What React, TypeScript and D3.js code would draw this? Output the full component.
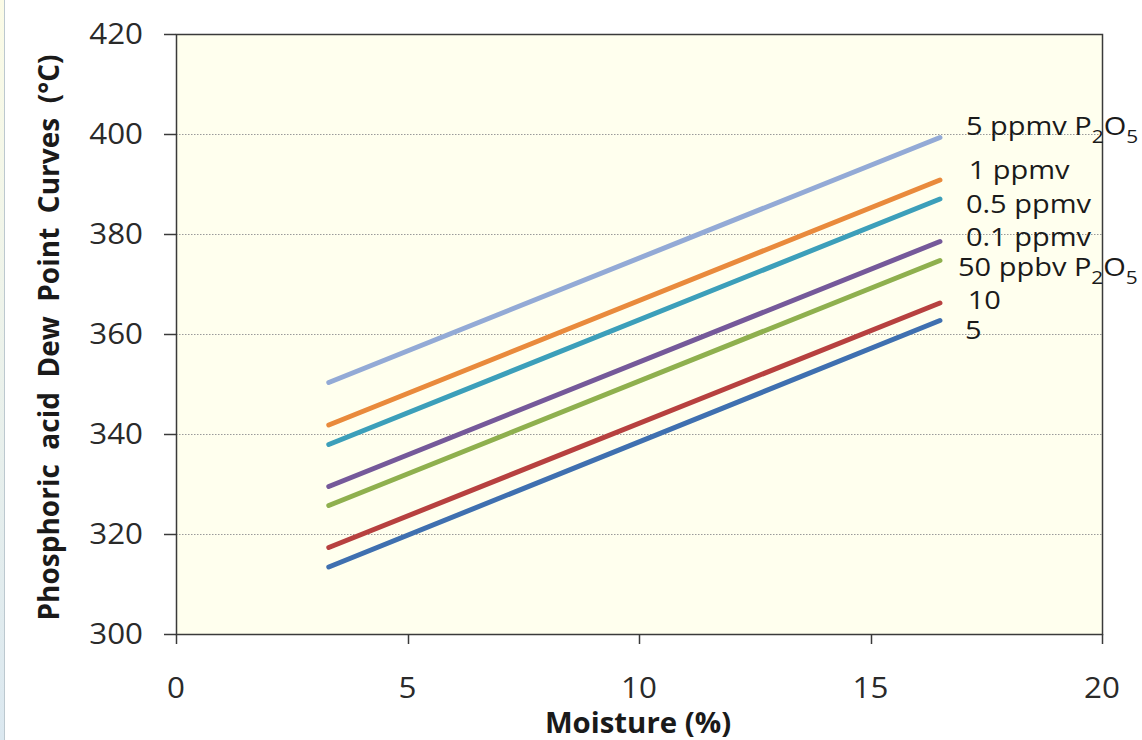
import React from "react";
import * as d3 from "d3";

// ---- data ----
const moisture: number[] = [3.3, 16.5];
const seriesNames: string[] = ["5 ppmv P2O5", "1 ppmv", "0.5 ppmv", "0.1 ppmv", "50 ppbv P2O5", "10", "5"];
const seriesColors: string[] = ["#93aad6", "#e98a3c", "#3c9fba", "#75599a", "#8fb04e", "#b7413f", "#3f70b0"];
const s5ppmv: number[] = [350.3, 399.3];
const s1ppmv: number[] = [341.8, 390.8];
const s05ppmv: number[] = [337.9, 387.0];
const s01ppmv: number[] = [329.5, 378.5];
const s50ppbv: number[] = [325.7, 374.7];
const s10ppbv: number[] = [317.3, 366.2];
const s5ppbv: number[] = [313.4, 362.7];
const seriesValues: number[][] = [s5ppmv, s1ppmv, s05ppmv, s01ppmv, s50ppbv, s10ppbv, s5ppbv];
// label anchors in data units (moisture, temperature)
const labelX: number[] = [17.06, 17.12, 17.06, 17.06, 16.89, 17.1, 17.04];
const labelY: number[] = [399.8, 391.0, 384.3, 377.7, 371.7, 365.0, 359.0];
const xTicks: number[] = [0, 5, 10, 15, 20];
const yTicks: number[] = [300, 320, 340, 360, 380, 400, 420];
const xTitle = "Moisture (%)";
const yTitle = "Phosphoric  acid  Dew  Point  Curves  (°C)";

const W = 1142;
const H = 740;
const margin = { left: 176, top: 34, right: 40, bottom: 106 };
const font = "'Open Sans', Lato, sans-serif";

function Label({ text, x, y }: { text: string; x: number; y: number }) {
  const m = text.match(/^(.*)P2O5$/);
  return (
    <text transform={`translate(${x},${y}) scale(1.16,1)`} fontSize={25} fill="#1a1a1a" fontFamily={font}
      style={{ whiteSpace: "pre" }}>
      {m ? (
        <>
          {m[1]}P
          <tspan dy={8} fontSize={18}>2</tspan>
          <tspan dy={-8}>O</tspan>
          <tspan dy={8} fontSize={18}>5</tspan>
        </>
      ) : (
        text
      )}
    </text>
  );
}

export default function App() {
  const x = d3.scaleLinear().domain([0, 20]).range([margin.left, W - margin.right]);
  const y = d3.scaleLinear().domain([300, 420]).range([H - margin.bottom, margin.top]);
  const line = d3
    .line<[number, number]>()
    .x((d) => x(d[0]))
    .y((d) => y(d[1]));
  const x0 = x(0), x1 = x(20), y0 = y(300), y1 = y(420);
  const axisColor = "#3a3a3a";

  return (
    <svg width={W} height={H} style={{ position: "absolute", left: 0, top: 0, background: "#ffffff" }}>
      <defs>
        <linearGradient id="strip" x1="0" y1="0" x2="0" y2="1">
          <stop offset="0" stopColor="#fbfbe6" />
          <stop offset="1" stopColor="#dbe8f0" />
        </linearGradient>
      </defs>
      <rect x={0} y={0} width={4} height={H} fill="url(#strip)" />
      <line x1={4.5} x2={4.5} y1={0} y2={H} stroke="#bcc8cf" strokeWidth={1} />

      {/* plot area */}
      <rect x={x0} y={y1} width={x1 - x0} height={y0 - y1} fill="#ffffee" />

      {/* gridlines */}
      {yTicks.filter((t) => t > 300 && t < 420).map((t) => (
        <line key={"g" + t} x1={x0} x2={x1} y1={Math.round(y(t)) + 0.5} y2={Math.round(y(t)) + 0.5}
          stroke="#9a9a9a" strokeWidth={1} strokeDasharray="1.5,1.5" />
      ))}

      {/* series lines */}
      {seriesValues.map((vals, i) => (
        <path key={seriesNames[i]}
          d={line(moisture.map((m, j) => [m, vals[j]] as [number, number])) || ""}
          fill="none" stroke={seriesColors[i]} strokeWidth={5} strokeLinecap="round" />
      ))}

      {/* frame */}
      <rect x={x0 + 0.5} y={y1 + 0.5} width={x1 - x0} height={y0 - y1} fill="none" stroke={axisColor} strokeWidth={1.5} />

      {/* y ticks */}
      {yTicks.map((t) => (
        <g key={"y" + t}>
          <line x1={x0 - 12} x2={x0} y1={Math.round(y(t)) + 0.5} y2={Math.round(y(t)) + 0.5} stroke={axisColor} strokeWidth={1.5} />
          <text transform={`translate(${x0 - 33},${y(t)}) scale(1.08,1)`} dy="0.36em" textAnchor="end" fontSize={29}
            fill="#2a2a2a" fontFamily={font}>
            {t}
          </text>
        </g>
      ))}

      {/* x ticks */}
      {xTicks.map((t) => (
        <g key={"x" + t}>
          <line x1={Math.round(x(t)) + 0.5} x2={Math.round(x(t)) + 0.5} y1={y0} y2={y0 + 10} stroke={axisColor} strokeWidth={1.5} />
          <text transform={`translate(${x(t)},698) scale(1.08,1)`} textAnchor="middle" fontSize={29} fill="#2a2a2a"
            fontFamily={font}>
            {t}
          </text>
        </g>
      ))}

      {/* series labels */}
      {seriesNames.map((n, i) => (
        <Label key={"l" + n} text={n} x={x(labelX[i])} y={y(labelY[i])} />
      ))}

      {/* axis titles */}
      <text transform={`translate(${(x0 + x1) / 2 - 1},733) scale(1.05,1)`} textAnchor="middle" fontSize={28}
        fontWeight="bold" fill="#1a1a1a" fontFamily={font}>
        {xTitle}
      </text>
      <text transform={`translate(59, 337.5) rotate(-90)`} textAnchor="middle" fontSize={28}
        fontWeight="bold" fill="#1a1a1a" fontFamily={font} style={{ whiteSpace: "pre" }}>
        {yTitle}
      </text>
    </svg>
  );
}
